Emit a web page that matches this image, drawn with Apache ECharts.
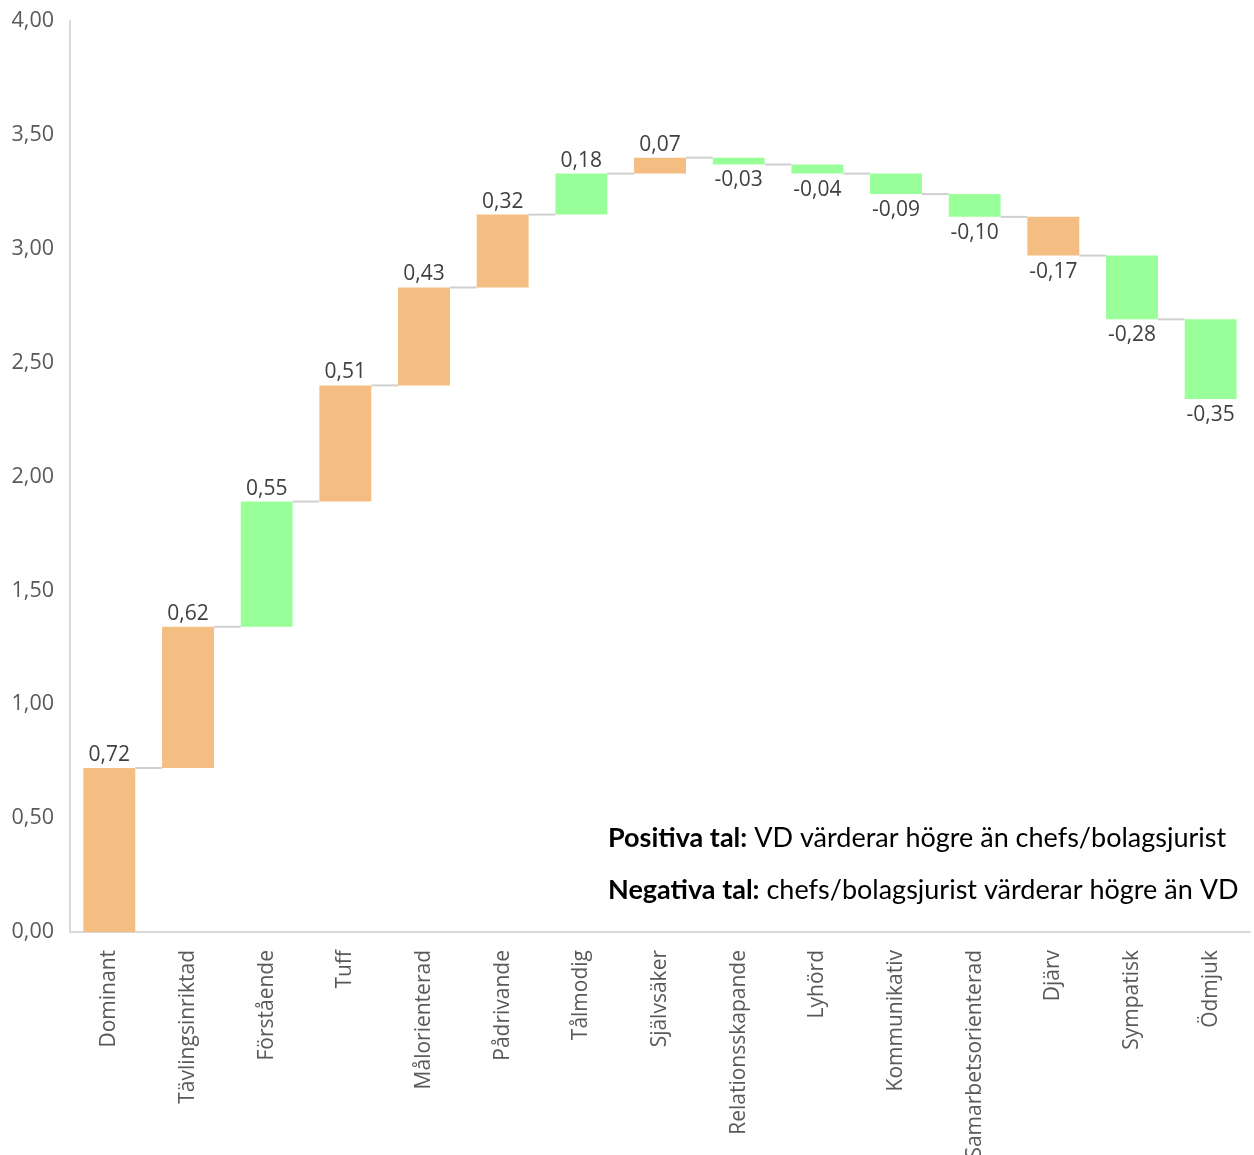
<!DOCTYPE html>
<html>
<head>
<meta charset="utf-8">
<script src="https://cdn.jsdelivr.net/npm/echarts@6/dist/echarts.min.js"></script>
<style>html,body{margin:0;padding:0;background:#fff}#c{width:1254px;height:1155px}</style>
</head>
<body>
<div id="c"></div>
<script>
const categories = ['Dominant','Tävlingsinriktad','Förstående','Tuff','Målorienterad','Pådrivande','Tålmodig','Självsäker','Relationsskapande','Lyhörd','Kommunikativ','Samarbetsorienterad','Djärv','Sympatisk','Ödmjuk'];
const values = [0.72, 0.62, 0.55, 0.51, 0.43, 0.32, 0.18, 0.07, -0.03, -0.04, -0.09, -0.10, -0.17, -0.28, -0.35];
const groups = ['o','o','g','o','o','o','g','o','g','g','g','g','o','g','g'];
const yTicks = [0, 0.5, 1, 1.5, 2, 2.5, 3, 3.5, 4];

const colors = { o: '#F4BE82', g: '#99FF99' };
const fmt = v => v.toFixed(2).replace('.', ',');
const FONT = "'Open Sans'";

let cum = 0;
const data = values.map((v, i) => {
  const start = cum;
  cum = Math.round((cum + v) * 100) / 100;
  return [i, start, cum, v];
});

const chart = echarts.init(document.getElementById('c'));
chart.setOption({
  animation: false,
  grid: { left: 70, right: 4, top: 21, bottom: 223, containLabel: false, outerBoundsMode: 'none' },
  xAxis: {
    type: 'category',
    data: categories,
    axisLine: { show: true, lineStyle: { color: '#D9D9D9', width: 2 } },
    axisTick: { show: false },
    axisLabel: { rotate: 90, margin: 18, fontSize: 21, color: '#595959', fontFamily: FONT }
  },
  yAxis: {
    type: 'value',
    min: yTicks[0], max: yTicks[yTicks.length - 1], interval: 0.5,
    axisLine: { show: true, lineStyle: { color: '#D9D9D9', width: 2 } },
    axisTick: { show: false },
    splitLine: { show: false },
    axisLabel: { margin: 16, fontSize: 21.5, color: '#595959', fontFamily: FONT, formatter: v => fmt(v) }
  },
  series: [{
    type: 'custom',
    data: data,
    encode: { x: 0, y: [1, 2] },
    renderItem: function (params, api) {
      const i = api.value(0);
      const s = api.value(1), e = api.value(2), v = api.value(3);
      const band = api.size([1, 0])[0];
      const w = band * 0.66;
      const p1 = api.coord([i, s]);
      const p2 = api.coord([i, e]);
      const x0 = p1[0] - w / 2;
      const yTop = Math.min(p1[1], p2[1]);
      const yBot = Math.max(p1[1], p2[1]);
      const children = [{
        type: 'rect',
        shape: { x: x0, y: yTop, width: w, height: yBot - yTop },
        style: { fill: colors[groups[i]] }
      }];
      if (i < values.length - 1) {
        children.push({
          type: 'line',
          shape: { x1: x0 + w, y1: p2[1], x2: x0 + band, y2: p2[1] },
          style: { stroke: '#D0D0D0', lineWidth: 2 }
        });
      }
      children.push({
        type: 'text',
        style: {
          text: fmt(v),
          x: p1[0],
          y: v >= 0 ? yTop - 13 : yBot + 16,
          align: 'center',
          verticalAlign: 'middle',
          fontSize: 21,
          fontFamily: FONT,
          fill: '#404040'
        }
      });
      return { type: 'group', children: children };
    }
  }],
  graphic: [
    {
      type: 'text', x: 608, y: 838,
      style: {
        text: '{b|Positiva tal:} VD värderar högre än chefs/bolagsjurist',
        verticalAlign: 'middle',
        fontSize: 27, fontFamily: 'Lato', fill: '#000',
        rich: { b: { fontWeight: 'bold', fontSize: 27, fontFamily: 'Lato', fill: '#000' } }
      }
    },
    {
      type: 'text', x: 608, y: 890,
      style: {
        text: '{b|Negativa tal:} chefs/bolagsjurist värderar högre än VD',
        verticalAlign: 'middle',
        fontSize: 27, fontFamily: 'Lato', fill: '#000',
        rich: { b: { fontWeight: 'bold', fontSize: 27, fontFamily: 'Lato', fill: '#000' } }
      }
    }
  ]
});
</script>
</body>
</html>
